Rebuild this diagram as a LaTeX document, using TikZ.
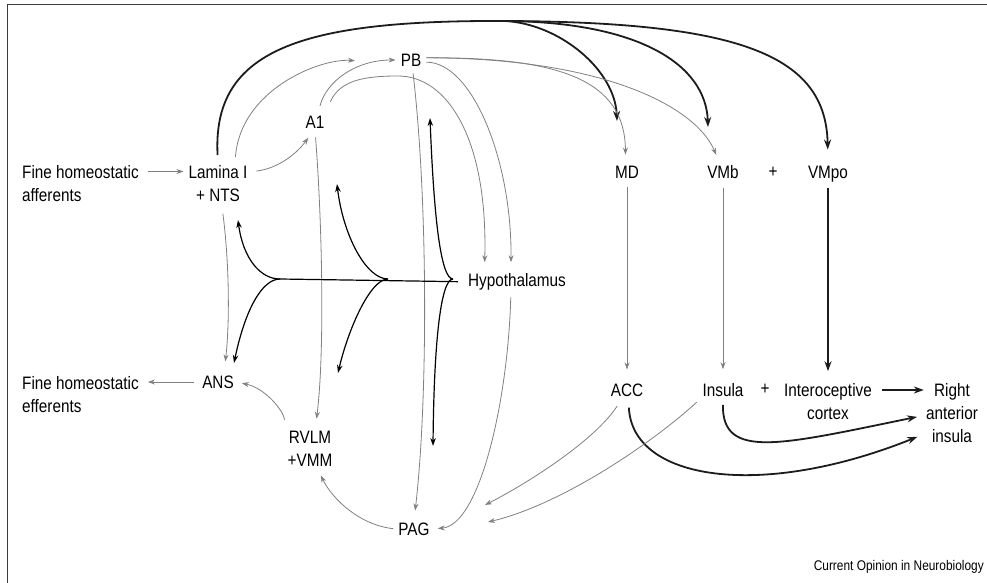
\documentclass[tikz,border=0pt]{standalone}
\usepackage{fontspec}
\setmainfont{Liberation Sans}[FakeStretch=0.85]
\usetikzlibrary{arrows.meta}
\definecolor{linkGray}{RGB}{128, 128, 128}
\definecolor{pathBlack}{RGB}{28, 28, 28}
\definecolor{frameGray}{RGB}{60, 60, 60}

\begin{document}
\begin{tikzpicture}[x=1pt, y=-1pt,
    lbl/.style={font=\fontsize{18}{23}\selectfont, align=center, inner sep=2pt},
    grayLink/.style={draw=linkGray, line width=0.8pt, -{Stealth[length=7pt, width=5pt]}, shorten >=3pt, shorten <=3pt},
    thickLink/.style={draw=pathBlack, line width=1.8pt, -{Stealth[length=10pt, width=7pt]}},
    fanLink/.style={draw=black, line width=1.2pt, -{Stealth[length=8pt, width=5.5pt]}}]
        \useasboundingbox (0,0) rectangle (987,583);
        \draw[frameGray, line width=1pt] (7,583) -- (7,5) -- (987,5);

        % Brainstem and hypothalamus
        \node[lbl, align=left, anchor=west] (fineAff) at (20,183.5) {Fine homeostatic\\afferents};
        \node[lbl] (lamina) at (218,183.5) {Lamina I\\+ NTS};
        \node[lbl] (aOne) at (315,122) {A1};
        \node[lbl] (pb) at (411,60) {PB};
        \node[lbl] (hypo) at (517,281.8) {Hypothalamus};
        \node[lbl] (ans) at (218,382) {ANS};
        \node[lbl, align=left, anchor=west] (fineEff) at (20,394.5) {Fine homeostatic\\efferents};
        \node[lbl] (rvlm) at (310,448.5) {RVLM\\+VMM};
        \node[lbl] (pag) at (414,529) {PAG};

        % Thalamus and cortex
        \node[lbl] (md) at (627,172) {MD};
        \node[lbl] (vmb) at (723,172) {VMb};
        \node[lbl] (plusTop) at (773,172) {+};
        \node[lbl] (vmpo) at (828,173.8) {VMpo};
        \node[lbl] (acc) at (627,390) {ACC};
        \node[lbl] (insula) at (723,390) {Insula};
        \node[lbl] (plusBot) at (765,389) {+};
        \node[lbl] (intero) at (828,401.5) {Interoceptive\\cortex};
        \node[lbl] (rightAI) at (952,413) {Right\\anterior\\insula};
        \node[font=\fontsize{14}{16}\selectfont, anchor=east, inner sep=0pt] (source) at (984,567) {Current Opinion in Neurobiology};

        % Free ends
        \coordinate (lamToPb) at (358,61);
        \coordinate (arcTop) at (505,21);
        \coordinate (mdIn) at (617,121);
        \coordinate (vmbIn) at (708,127);
        \coordinate (accToPag) at (485,505);
        \coordinate (insToPag) at (488,522);

        % In and out
        \draw[grayLink, shorten <=7pt] ([yshift=12pt]fineAff.east) -- ([yshift=12pt]fineAff.east -| lamina.west);
        \draw[grayLink, shorten <=6pt, shorten >=7pt] (ans.west) -- (ans.west -| fineEff.east);

        % Lamina I + NTS
        \draw[grayLink, shorten <=7pt, shorten >=9pt] (lamina.20) .. controls (280,168) and (298,152) .. (aOne.-100);
        \draw[grayLink, shorten <=6pt] (lamina.50) .. controls (240,90) and (320,58) .. (lamToPb);
        \draw[grayLink, shorten <=10pt, shorten >=12pt] (lamina.-80) .. controls (229,260) and (230,320) .. (ans.55);
        \draw[thickLink, -, shorten <=8pt] (lamina.north) .. controls (212,50) and (300,20) .. (arcTop);
        \draw[thickLink] (arcTop) .. controls (560,24) and (615,70) .. (mdIn);
        \draw[thickLink] (arcTop) .. controls (640,22) and (706,65) .. (vmbIn);
        \draw[thickLink, shorten >=14pt] (arcTop) .. controls (740,22) and (826,55) .. (vmpo.north);

        % A1 and PB
        \draw[grayLink, shorten <=8pt] (aOne.70) .. controls (326,82) and (355,60) .. (pb.west);
        \draw[grayLink, shorten <=13pt, shorten >=9pt] (aOne.40) .. controls (340,80) and (365,76) .. (398,76)
          .. controls (448,76) and (488,140) .. (hypo.162);
        \draw[grayLink, shorten <=7pt, shorten >=10pt] (aOne.south) .. controls (322,220) and (325,350) .. (rvlm.75);
        \draw[grayLink, shorten >=9pt] (pb.-10) .. controls (472,62) and (512,160) .. (hypo.120);
        \draw[grayLink, shorten <=5pt, shorten >=10pt] (pb.-80) .. controls (428,200) and (428,400) .. (pag.north);
        \draw[grayLink, shorten >=9pt] (pb.10) .. controls (560,57) and (625,80) .. (md.100);
        \draw[grayLink, shorten >=9pt] (pb.10) .. controls (600,58) and (695,105) .. (vmb.110);

        % Medulla outputs
        \draw[grayLink, shorten <=9pt, shorten >=6pt] (rvlm.140) .. controls (283,410) and (265,388) .. (ans.east);
        \draw[grayLink, shorten >=8pt] (pag.west) .. controls (360,525) and (333,500) .. (rvlm.-70);
        \draw[grayLink, shorten <=5pt, shorten >=6pt] (hypo.-120) .. controls (508,400) and (480,525) .. (pag.east);

        % Hypothalamus fan
        \coordinate (jOne) at (280,279);
        \coordinate (jTwo) at (388,279);
        \coordinate (jThree) at (453,279);
        \draw[black, line width=1.2pt, shorten <=8pt] (hypo.west) -- (jOne);
        \draw[fanLink] (jOne) .. controls (260,279) and (243,258) .. (238,220) coordinate (fanLam);
        \draw[fanLink] (jOne) .. controls (262,279) and (245,310) .. (234,363) coordinate (fanAns);
        \draw[fanLink] (jTwo) .. controls (366,279) and (343,235) .. (337,184) coordinate (fanAone);
        \draw[fanLink] (jTwo) .. controls (370,279) and (348,330) .. (338,373) coordinate (fanRvlm);
        \draw[fanLink] (jThree) .. controls (441,279) and (434,220) .. (430,118) coordinate (fanPb);
        \draw[fanLink] (jThree) .. controls (441,279) and (434,340) .. (433,446) coordinate (fanPag);

        % Thalamus to cortex
        \draw[grayLink, shorten <=7pt, shorten >=12pt] (md.south) -- (acc.north);
        \draw[grayLink, shorten <=7pt, shorten >=12pt] (vmb.south) -- (insula.north);
        \draw[thickLink, shorten <=4pt, shorten >=10pt] (vmpo.south) -- (intero.north);
        \draw[thickLink, shorten <=8pt] ([yshift=11.5pt]intero.east) -- ([yshift=11.5pt]intero.east -| rightAI.west);
        \draw[thickLink, shorten <=6pt, shorten >=7pt] (insula.south) .. controls (722,460) and (780,445) .. (rightAI.185);
        \draw[thickLink, shorten <=9pt, shorten >=7pt] (acc.-80) .. controls (632,480) and (760,500) .. (rightAI.217);

        % Cortex to PAG
        \draw[grayLink, shorten <=9pt, shorten >=0pt] (acc.-120) .. controls (595,440) and (530,482) .. (accToPag);
        \draw[grayLink, shorten <=5pt, shorten >=0pt] (insula.south west) .. controls (650,445) and (560,505) .. (insToPag);
      \end{tikzpicture}
\end{document}
